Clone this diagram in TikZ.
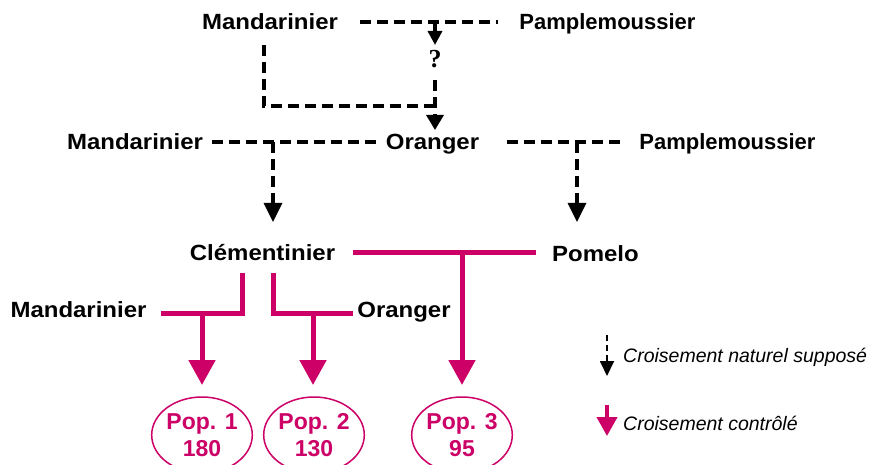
\documentclass[tikz,border=0pt]{standalone}
\usepackage{fontspec}
\setmainfont{Liberation Sans}
\newfontfamily\serifq{Liberation Serif}
\newfontfamily\wide[FakeStretch=1.09]{Liberation Sans}
\usetikzlibrary{arrows.meta,shapes.geometric}
\definecolor{mag}{RGB}{204,0,102}
\begin{document}
\begin{tikzpicture}[x=1pt,y=-1pt,
  lbl/.style={font=\fontsize{22}{26}\selectfont\wide\bfseries, inner sep=0pt, anchor=base},
  lbln/.style={font=\fontsize{22}{26}\selectfont\bfseries, inner sep=0pt, anchor=base},
  dsh/.style={line width=3.3pt, dash pattern=on 11pt off 6pt},
  blk/.style={dsh, -{Triangle[width=18pt,length=19pt]}},
  blks/.style={dsh, -{Triangle[width=14pt,length=14pt]}},
  blkm/.style={dsh, -{Triangle[width=17pt,length=15pt]}},
  ctl/.style={draw=mag, line width=5pt},
  ctla/.style={ctl, -{Triangle[width=26pt,length=25pt]}},
  pop/.style={ellipse, draw=mag, line width=1.5pt, minimum width=100pt, minimum height=76pt, text=mag, font=\fontsize{23}{27}\selectfont\bfseries, align=center, inner sep=0pt},
  leg/.style={font=\fontsize{19.5}{22}\selectfont\itshape, inner sep=0pt, anchor=base west}]
\path[use as bounding box, fill=white] (0,0) rectangle (870,465);

% labels
\node[lbl] (m1) at (270,30) {Mandarinier};
\node[lbln] (p1) at (607.5,30) {Pamplemoussier};
\node[font=\fontsize{26}{30}\selectfont\serifq\bfseries, inner sep=0pt] (q) at (435,59) {?};
\node[lbl] (o2) at (432.5,150) {Oranger};
\node[lbl] (m2) at (135,150) {Mandarinier};
\node[lbln] (p2) at (727.5,150) {Pamplemoussier};
\node[lbl] (c3) at (262.5,260) {Clémentinier};
\node[lbl] (pm3) at (595.5,261) {Pomelo};
\node[lbl] (m4) at (78.5,317) {Mandarinier};
\node[lbl] (o4) at (404,317) {Oranger};

% populations
\node[pop] (pop1) at (202,435) {Pop. 1\\180};
\node[pop] (pop2) at (314,435) {Pop. 2\\130};
\node[pop] (pop3) at (462,435) {Pop. 3\\95};

% row 1 coordinates
\coordinate (h1a) at (360,22);
\coordinate (h1b) at (498,22);
\coordinate (j1) at (435,22);
\coordinate (j1t) at (435,45);
\coordinate (qb) at (435,80);
\coordinate (o2t) at (435,130);
\coordinate (l1) at (264,45);
\coordinate (j2) at (435,106);
\draw[dsh] (h1a) -- (h1b);
\draw[blks] (j1) -- (j1t);
\draw[blkm] (qb) -- (o2t);
\draw[dsh] (l1) |- (j2);

% row 2
\coordinate (h2a) at (212,142);
\coordinate (h2b) at (378,142);
\coordinate (h2c) at (507,142);
\coordinate (h2d) at (623,142);
\coordinate (j3) at (273,142);
\coordinate (j3t) at (273,222);
\coordinate (j4) at (577,142);
\coordinate (j4t) at (577,222);
\draw[dsh] (h2a) -- (h2b);
\draw[dsh] (h2c) -- (h2d);
\draw[blk] (j3) -- (j3t);
\draw[blk] (j4) -- (j4t);

% controlled crosses
\coordinate (h3a) at (353,252);
\coordinate (h3b) at (536,252);
\coordinate (j5) at (462,252);
\coordinate (t3) at (462,385);
\draw[ctl] (h3a) -- (h3b);
\draw[ctla] (j5) -- (t3);

\coordinate (cl) at (242,273);
\coordinate (ml) at (161,313);
\coordinate (j6) at (202,313);
\coordinate (t1) at (202,385);
\draw[ctl] (cl) |- (ml);
\draw[ctla] (j6) -- (t1);

\coordinate (cr) at (273,273);
\coordinate (or) at (353,313);
\coordinate (j7) at (313,313);
\coordinate (t2) at (313,385);
\draw[ctl] (cr) |- (or);
\draw[ctla] (j7) -- (t2);

% legend
\coordinate (la) at (607,335);
\coordinate (lb) at (607,376);
\coordinate (lc) at (607,405);
\coordinate (ld) at (607,436);
\draw[line width=1.8pt, dash pattern=on 6pt off 4pt, -{Triangle[width=14pt,length=15pt]}] (la) -- (lb);
\draw[draw=mag, line width=4pt, -{Triangle[width=20pt,length=19pt]}] (lc) -- (ld);
\node[leg] (l1t) at (623,362) {Croisement naturel supposé};
\node[leg] (l2t) at (623,430) {Croisement contrôlé};
\end{tikzpicture}
\end{document}
